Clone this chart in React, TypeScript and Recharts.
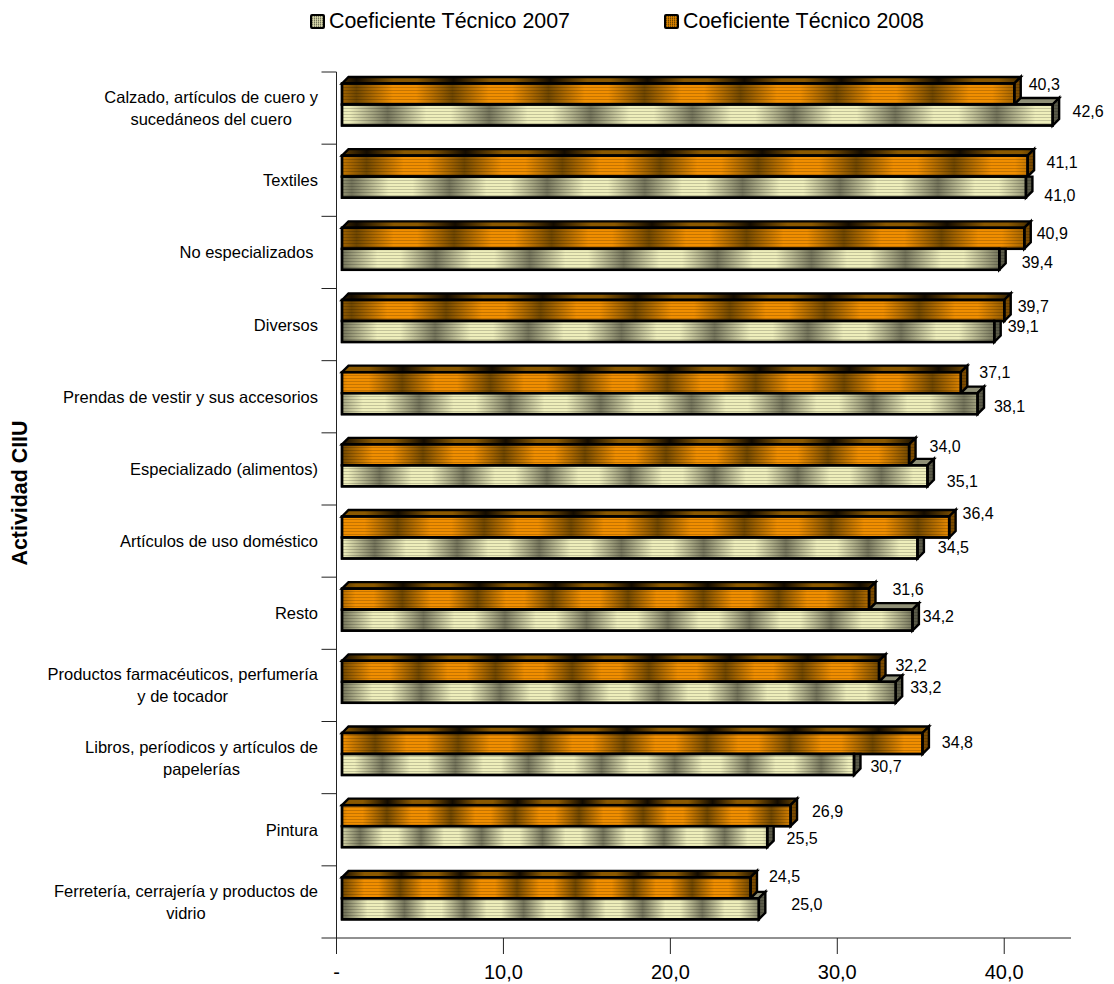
import { BarChart, Bar, XAxis, YAxis, Legend, LabelList } from 'recharts';

const categories = [
  'Calzado, artículos de cuero y\nsucedáneos del cuero',
  'Textiles',
  'No especializados ',
  'Diversos',
  'Prendas de vestir y sus accesorios',
  'Especializado (alimentos)',
  'Artículos de uso doméstico',
  'Resto',
  'Productos farmacéuticos, perfumería\ny de tocador',
  'Libros, períodicos y artículos de\npapelerías',
  'Pintura',
  'Ferretería, cerrajería y productos de\nvidrio',
];
const coef2007 = [42.6, 41.0, 39.4, 39.1, 38.1, 35.1, 34.5, 34.2, 33.2, 30.7, 25.5, 25.0];
const coef2008 = [40.3, 41.1, 40.9, 39.7, 37.1, 34.0, 36.4, 31.6, 32.2, 34.8, 26.9, 24.5];
const xTicks = [0, 10, 20, 30, 40];

// where the dark band of the texture starts on each bar, as a fraction of one cycle
const phase2007 = [0.45, 0.1, 0, 0, 0.85, 0.45, 0.4, 0, 0, 0.55, 0.3, 0.05];
const phase2008 = [0.15, 0.25, 0.15, 0.1, 0.68, 0, 0.64, 0.8, 0, 0.4, 0.7, 0];

// data labels were moved by hand in the original: [dx from bar end, dy from bar centre]
const labelNudge2007 = [[35.5, -3.5], [34, 8], [38, 3], [29, -5], [32, 3], [35, 6], [36, -1], [26, -4], [30, -5], [32, 2], [35, 2], [48, -4]];
const labelNudge2008 = [[30, -9.5], [34.5, -4], [28, -5], [29, -4], [34, -10], [36, -8], [29, -14], [39, -10], [32, -6], [35, -1], [37, -4], [34, -11]];

const rows = categories.map((name, i) => ({ name, c2007: coef2007[i], c2008: coef2008[i] }));

const FONT = '"Liberation Sans", Arial, sans-serif';
const DEPTH = 6.5;
const CYCLES = 7;
const BAND = (938 - 72) / 12;

const CREAM = { dark: '#73735a', light: '#eeeebb', topDark: '#8f8f76', topLight: '#8f8f76', side: '#5a5a48' };
const ORANGE = { dark: '#704700', light: '#f08e00', topDark: '#140c00', topLight: '#8a5800', side: '#7a4a00' };

const fmt = (v: number) => v.toFixed(1).replace('.', ',');

function textWidth(text: string, fontSize: number) {
  const ctx = document.createElement('canvas').getContext('2d');
  if (!ctx) return 0;
  ctx.font = `${fontSize}px "Liberation Sans"`;
  return ctx.measureText(text).width;
}

function Bar3D({ x, y, width, height, index, payload, is2008 }: any) {
  const pal = is2008 ? ORANGE : CREAM;
  const phase = (is2008 ? phase2008 : phase2007)[index];
  const id = `${is2008 ? 'o' : 'c'}${index}`;
  const left = x + 5.5;
  const right = x + 5 + width;
  const y0 = y - 3.5;
  const y1 = y0 + height;

  // the 2007 bar sits behind the 2008 one, so only draw what sticks out past it
  const otherRight = x + 5 + (width * payload.c2008) / payload.c2007;
  const covered = !is2008 && otherRight >= right;
  const topStart = is2008 ? left : otherRight;

  const sidePts = covered
    ? `${right},${y0} ${right + DEPTH},${y0} ${right + DEPTH},${y1 - DEPTH} ${right},${y1}`
    : `${right},${y0} ${right + DEPTH},${y0 - DEPTH} ${right + DEPTH},${y1 - DEPTH} ${right},${y1}`;

  const gradient = (gid: string, dark: string, light: string) => (
    <linearGradient id={gid} x1={phase / CYCLES} x2={(phase + 1) / CYCLES} y1="0" y2="0" spreadMethod="repeat">
      <stop offset="0" stopColor={dark} />
      <stop offset="0.38" stopColor={light} />
      <stop offset="0.62" stopColor={light} />
      <stop offset="1" stopColor={dark} />
    </linearGradient>
  );

  return (
    <g stroke="#000" strokeWidth={2.4} strokeLinejoin="miter">
      <defs>
        {gradient(`${id}f`, pal.dark, pal.light)}
        {gradient(`${id}t`, pal.topDark, pal.topLight)}
        <pattern id={`${id}s`} patternUnits="userSpaceOnUse" width="4" height="3">
          <rect width="4" height="1" fill="rgba(0,0,0,0.18)" stroke="none" />
        </pattern>
      </defs>
      {!covered && (
        <polygon
          points={`${topStart},${y0} ${topStart + DEPTH},${y0 - DEPTH} ${right + DEPTH},${y0 - DEPTH} ${right},${y0}`}
          fill={`url(#${id}t)`}
        />
      )}
      <polygon points={sidePts} fill={pal.side} />
      <polygon points={sidePts} fill={`url(#${id}s)`} stroke="none" />
      <rect x={left} y={y0} width={right - left} height={height} fill={`url(#${id}f)`} />
      <rect x={left} y={y0} width={right - left} height={height} fill={`url(#${id}s)`} stroke="none" />
      <rect x={left} y={y0} width={right - left} height={height} fill="none" />
    </g>
  );
}

function ValueLabel({ x, y, width, height, value, index, nudge }: any) {
  const [dx, dy] = nudge[index];
  return (
    <text
      x={x + 5 + width + dx}
      y={y - 3.5 + height / 2 + dy}
      textAnchor="middle"
      dominantBaseline="central"
      fontFamily={FONT}
      fontSize={16}
      fill="#000"
    >
      {fmt(value)}
    </text>
  );
}

function CategoryTick({ x, y, payload, index }: any) {
  const lines = String(payload.value).split('\n');
  const axisX = x + 8;
  const textRight = axisX - 18.5;
  const top = y - ((lines.length - 1) * 22) / 2;
  // wrapped labels are centred on their widest line, and that block is right aligned
  const blockWidth = Math.max(...lines.map((l) => textWidth(l, 16.5)));
  return (
    <g>
      <line x1={axisX - 15} x2={axisX} y1={y - BAND / 2} y2={y - BAND / 2} stroke="#222" />
      {index === categories.length - 1 && (
        <line x1={axisX - 15} x2={axisX} y1={y + BAND / 2} y2={y + BAND / 2} stroke="#222" />
      )}
      {lines.map((line, i) => (
        <text
          key={i}
          x={lines.length > 1 ? textRight - blockWidth / 2 : textRight}
          y={top + i * 22}
          textAnchor={lines.length > 1 ? 'middle' : 'end'}
          dominantBaseline="central"
          fontFamily={FONT}
          fontSize={16.5}
          fill="#000"
          xmlSpace="preserve"
        >
          {line}
        </text>
      ))}
    </g>
  );
}

function Swatch({ pal }: { pal: typeof CREAM }) {
  return (
    <svg width={15} height={15} style={{ display: 'block' }}>
      <rect x={1} y={1} width={13} height={13} rx={1} fill={pal.dark} stroke="#000" strokeWidth={2} />
      {[3, 5, 7, 9, 11].map((p) => (
        <g key={p}>
          <line x1={p + 0.5} x2={p + 0.5} y1={2} y2={13} stroke={pal.light} strokeOpacity={0.7} />
          <line x1={2} x2={13} y1={p + 0.5} y2={p + 0.5} stroke={pal.light} strokeOpacity={0.4} />
        </g>
      ))}
    </svg>
  );
}

function LegendBox() {
  const items = [
    { label: 'Coeficiente Técnico 2007', pal: CREAM, left: 310 },
    { label: 'Coeficiente Técnico 2008', pal: ORANGE, left: 664 },
  ];
  return (
    <div style={{ position: 'relative', width: 1114, height: 40, fontFamily: FONT, fontSize: 21.4 }}>
      {items.map((it) => (
        <div key={it.label} style={{ position: 'absolute', left: it.left, top: 10, display: 'flex', alignItems: 'center', gap: 4, whiteSpace: 'nowrap', lineHeight: '23px' }}>
          <Swatch pal={it.pal} />
          <span>{it.label}</span>
        </div>
      ))}
    </div>
  );
}

export default function App() {
  return (
    <div style={{ position: 'absolute', left: 0, top: 0 }}>
      <BarChart
        width={1114}
        height={984}
        data={rows}
        layout="vertical"
        barSize={21}
        barGap={0}
        margin={{ top: 72, right: 43, bottom: 0, left: 0 }}
      >
        <Legend
          verticalAlign="middle"
          content={<LegendBox />}
          wrapperStyle={{ top: 0, left: 0, width: 1114 }}
        />
        <XAxis
          type="number"
          domain={[0, 44]}
          ticks={xTicks}
          tickFormatter={(v: number) => (v === 0 ? '-' : fmt(v))}
          height={46}
          tickSize={16}
          tickMargin={11}
          stroke="#222"
          tick={{ fontFamily: FONT, fontSize: 20, fill: '#000' }}
        />
        <YAxis
          type="category"
          dataKey="name"
          width={336.5}
          interval={0}
          tickLine={false}
          stroke="#222"
          tick={<CategoryTick />}
          label={(p: any) => (
            <text
              transform={`translate(20 ${p.viewBox.y + p.viewBox.height / 2 - 12}) rotate(-90)`}
              textAnchor="middle"
              dominantBaseline="central"
              fontFamily={FONT}
              fontSize={21.4}
              fontWeight="bold"
              fill="#000"
            >
              Actividad CIIU
            </text>
          )}
        />
        <Bar
          dataKey="c2008"
          name="Coeficiente Técnico 2008"
          isAnimationActive={false}
          shape={(p: any) => <Bar3D {...p} is2008 />}
        >
          <LabelList dataKey="c2008" content={(p: any) => <ValueLabel {...p} nudge={labelNudge2008} />} />
        </Bar>
        <Bar
          dataKey="c2007"
          name="Coeficiente Técnico 2007"
          isAnimationActive={false}
          shape={(p: any) => <Bar3D {...p} />}
        >
          <LabelList dataKey="c2007" content={(p: any) => <ValueLabel {...p} nudge={labelNudge2007} />} />
        </Bar>
      </BarChart>
    </div>
  );
}
